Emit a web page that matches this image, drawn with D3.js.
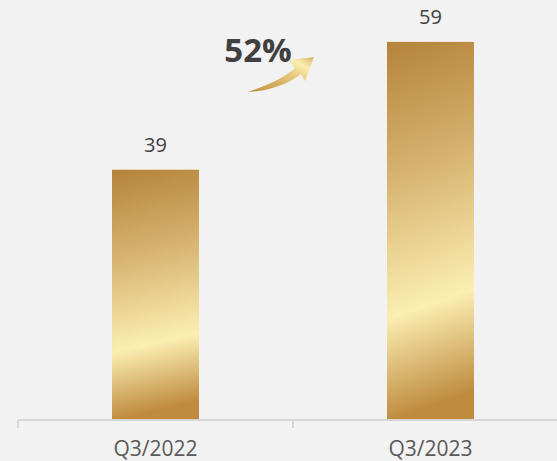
<html>
  <head>
    <script type="text/javascript" src="https://cdn.jsdelivr.net/npm/d3@7"></script>
    <style>
      body { margin: 0; background: #f2f2f2; }
      text { font-family: "Open Sans", "Liberation Sans", sans-serif; }
    </style>
  </head>
  <body>
    <svg id="chart" width="557" height="461"></svg>
    <script type="text/javascript">
      // chart data
      var categories = ["Q3/2022", "Q3/2023"];
      var values = [39, 59];
      var growthLabel = "52%";

      var svg = d3.select("#chart"),
          width = +svg.attr("width"),
          height = +svg.attr("height");

      svg.append("rect")
        .attr("width", width).attr("height", height)
        .attr("fill", "#f2f2f2");

      var defs = svg.append("defs");

      // gold gradient for the bars, light band tilted a little
      var gold = defs.append("linearGradient")
        .attr("id", "gold")
        .attr("x1", 0).attr("y1", 0)
        .attr("x2", 0.08).attr("y2", 1);
      [[0, "#b5833a"], [0.35, "#d6b26e"], [0.73, "#fbeeb2"], [1, "#bf8c3f"]]
        .forEach(function(s) {
          gold.append("stop").attr("offset", s[0]).attr("stop-color", s[1]);
        });

      var arrowGold = defs.append("linearGradient")
        .attr("id", "arrow-gold")
        .attr("x1", 0).attr("y1", 1).attr("x2", 1).attr("y2", 0);
      [[0, "#bf8d3e"], [0.6, "#e8cc7e"], [0.8, "#fbeeb2"], [1, "#d6b260"]]
        .forEach(function(s) {
          arrowGold.append("stop").attr("offset", s[0]).attr("stop-color", s[1]);
        });

      var x = d3.scaleBand()
        .domain(categories)
        .range([18, 568])
        .paddingInner(0)
        .paddingOuter(0);

      var y = d3.scaleLinear()
        .domain([0, 60])
        .range([419, 35.5]);

      var barWidth = 87;

      svg.selectAll("rect.bar")
        .data(values)
        .enter().append("rect")
          .attr("class", "bar")
          .attr("x", function(d, i) { return x(categories[i]) + x.bandwidth() / 2 - barWidth / 2; })
          .attr("y", function(d) { return y(d); })
          .attr("width", barWidth)
          .attr("height", function(d) { return y(0) - y(d); })
          .attr("fill", "url(#gold)");

      svg.selectAll("text.value")
        .data(values)
        .enter().append("text")
          .attr("class", "value")
          .attr("x", function(d, i) { return x(categories[i]) + x.bandwidth() / 2; })
          .attr("y", function(d) { return y(d) - 18; })
          .attr("text-anchor", "middle")
          .attr("font-size", 20)
          .attr("fill", "#404040")
          .text(function(d) { return d; });

      // x axis: ticks on band edges, labels centred
      var axis = svg.append("g").attr("transform", "translate(0,420)");
      axis.append("line")
        .attr("x1", 18).attr("x2", width)
        .attr("stroke", "#d6d6d6").attr("stroke-width", 2);
      axis.selectAll("line.tick")
        .data(categories.concat(["end"]))
        .enter().append("line")
          .attr("class", "tick")
          .attr("x1", function(d, i) { return 18 + i * x.bandwidth(); })
          .attr("x2", function(d, i) { return 18 + i * x.bandwidth(); })
          .attr("y1", 0).attr("y2", 8)
          .attr("stroke", "#d6d6d6").attr("stroke-width", 2);
      axis.selectAll("text")
        .data(categories)
        .enter().append("text")
          .attr("x", function(d) { return x(d) + x.bandwidth() / 2; })
          .attr("y", 36)
          .attr("text-anchor", "middle")
          .attr("font-size", 21)
          .attr("fill", "#595959")
          .text(function(d) { return d; });

      // growth annotation
      svg.append("path")
        .attr("d", "M248,92 C268,85 284,78 295,68 L289,60 L314,57 L305,81 L301,74 C287,85 268,91 248,92 Z")
        .attr("fill", "url(#arrow-gold)");

      svg.append("text")
        .attr("x", 258)
        .attr("y", 62)
        .attr("text-anchor", "middle")
        .attr("font-size", 33)
        .attr("font-weight", "bold")
        .attr("fill", "#404040")
        .text(growthLabel);
    </script>
  </body>
</html>
